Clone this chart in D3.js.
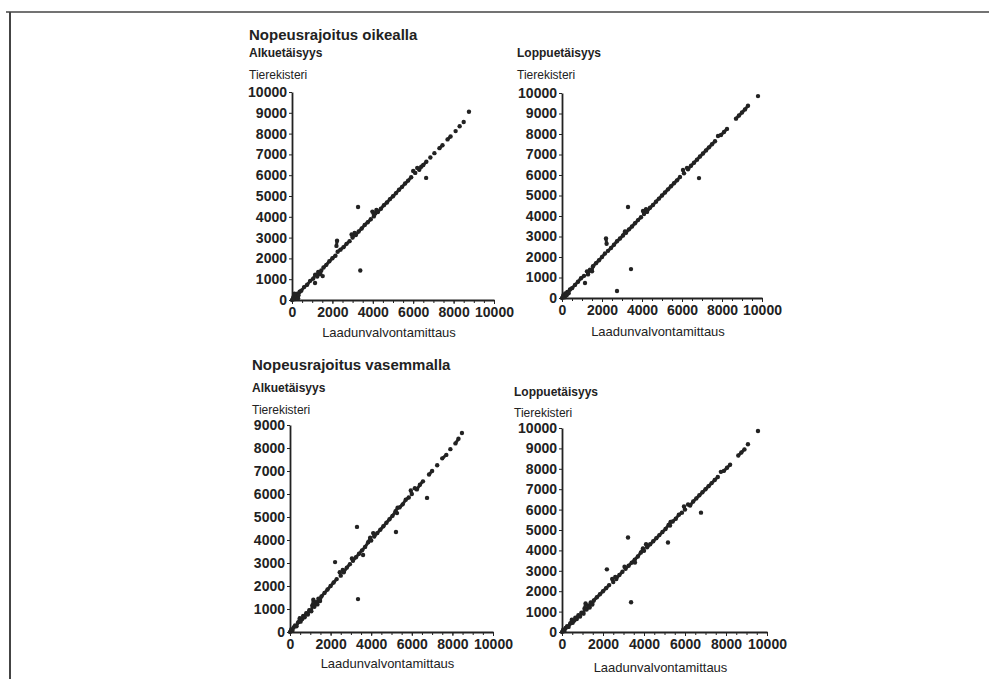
<!DOCTYPE html>
<html>
<head>
<meta charset="utf-8">
<script src="https://cdn.jsdelivr.net/npm/d3@7"></script>
<style>
  body { margin: 0; background: #fff; }
  svg { display: block; }
  text { font-family: "Liberation Sans", Arial, sans-serif; fill: #222; }
</style>
</head>
<body>
<div id="chart"></div>
<script>
// ticks
var xTicks = [0, 2000, 4000, 6000, 8000, 10000];
var yTicks10 = [0, 1000, 2000, 3000, 4000, 5000, 6000, 7000, 8000, 9000, 10000];
var yTicks9 = [0, 1000, 2000, 3000, 4000, 5000, 6000, 7000, 8000, 9000];

// texts
var groupTitles = ["Nopeusrajoitus oikealla", "Nopeusrajoitus vasemmalla"];
var panelTitles = ["Alkuetäisyys", "Loppuetäisyys", "Alkuetäisyys", "Loppuetäisyys"];
var yTitle = "Tierekisteri";
var xTitle = "Laadunvalvontamittaus";

// [laadunvalvontamittaus, tierekisteri]
var p1Main = [[0,0],[60,120],[120,40],[150,220],[220,130],[260,300],[320,230],[120,300],[300,80],[380,400],
  [460,450],[600,620],[750,730],[900,920],[1050,1030],[1150,1220],[1250,1130],[1300,1350],[1400,1250],[1450,1420],
  [1520,1150],[1560,1560],[1700,1690],[1850,1860],[2000,2010],[2150,2130],[2200,2600],[2230,2850],[2260,2320],[2400,2420],
  [2550,2540],[2700,2700],[2850,2830],[2950,3150],[3000,3000],[3100,3220],[3160,3120],[3300,3290],[3450,3440],[3600,3610],
  [3750,3740],[3900,3880],[3980,4250],[4050,4020],[4120,4160],[4180,4330],[4250,4230],[4400,4390],[4550,4560],[4700,4690],
  [4850,4850],[5000,4990],[5150,5140],[5300,5300],[5450,5440],[5600,5600],[5750,5740],[5900,5900],[6000,6200],[6100,6110],
  [6200,6350],[6300,6260],[6400,6410],[6500,6490],[6650,6650],[6850,6850],[7050,7060],[7300,7300],[7450,7440],[7700,7720],
  [7850,7860],[8100,8120],[8300,8350],[8500,8560],[8760,9050]];
var p1Out = [[1140,820],[3270,4470],[3380,1420],[6640,5870]];

var p2Main = [[0,0],[60,120],[130,40],[160,220],[230,130],[270,300],[330,230],[400,420],
  [500,480],[650,640],[800,790],[950,960],[1100,1080],[1250,1300],[1300,1150],[1400,1380],[1500,1300],[1550,1550],
  [1700,1700],[1850,1840],[2000,2000],[2150,2170],[2200,2900],[2230,2650],[2300,2300],[2450,2440],[2600,2600],[2750,2770],
  [2900,2900],[3050,3050],[3150,3250],[3200,3180],[3350,3350],[3500,3490],[3650,3650],[3800,3800],[3950,3940],[4050,4250],
  [4100,4100],[4200,4330],[4250,4200],[4400,4400],[4550,4540],[4700,4700],[4850,4850],[5000,5000],[5150,5150],[5300,5300],
  [5450,5450],[5600,5600],[5750,5740],[5900,5900],[6050,6250],[6100,6080],[6250,6350],[6300,6280],[6450,6450],[6600,6600],
  [6750,6750],[6900,6900],[7050,7050],[7200,7200],[7350,7350],[7500,7500],[7650,7650],[7800,7900],[7950,7950],[8100,8100],
  [8250,8250],[8700,8750],[8850,8900],[9000,9050],[9150,9200],[9300,9380]];
var p2Out = [[1150,730],[2750,340],[3300,4440],[3450,1410],[6850,5850],[9800,9850]];

var p3Main = [[0,0],[60,110],[120,50],[180,200],[250,280],[320,250],[400,420],[480,600],[520,450],[600,560],
  [650,700],[720,640],[800,820],[880,760],[950,950],[1050,900],[1100,1150],[1150,1400],[1200,1100],[1280,1300],
  [1350,1200],[1400,1450],[1480,1350],[1550,1550],[1700,1700],[1850,1850],[2000,2000],[2150,2150],[2300,2300],[2450,2600],
  [2500,2450],[2600,2700],[2650,2600],[2800,2800],[2950,2950],[3050,3200],[3100,3100],[3250,3250],[3400,3400],[3550,3550],
  [3700,3700],[3850,3900],[3950,4100],[4000,3980],[4100,4300],[4150,4150],[4300,4300],[4450,4450],[4600,4600],[4750,4750],
  [4900,4900],[5050,5050],[5200,5250],[5300,5400],[5400,5420],[5550,5550],[5700,5750],[5850,5850],[5950,6150],[6000,6000],
  [6150,6250],[6250,6200],[6400,6400],[6550,6550],[6850,6850],[7000,7000],[7250,7250],[7500,7550],[7700,7700],[7900,7950],
  [8150,8200],[8300,8400],[8470,8650]];
var p3Out = [[2220,3040],[3300,4570],[3350,1430],[3600,3350],[5220,4350],[5270,5170],[6750,5830]];

var p4Main = [[0,0],[60,110],[120,50],[180,200],[250,280],[320,250],[400,420],[480,600],[520,450],[600,560],
  [650,700],[720,640],[800,820],[880,760],[950,950],[1050,900],[1100,1150],[1150,1400],[1200,1100],[1280,1300],
  [1350,1200],[1400,1450],[1480,1350],[1550,1550],[1700,1700],[1850,1850],[2000,2000],[2150,2150],[2300,2300],[2450,2600],
  [2500,2450],[2600,2700],[2650,2600],[2800,2800],[2950,2950],[3050,3200],[3100,3100],[3250,3250],[3400,3400],[3550,3550],
  [3700,3700],[3850,3900],[3950,4100],[4000,3980],[4100,4300],[4150,4150],[4300,4300],[4450,4450],[4600,4600],[4750,4750],
  [4900,4900],[5050,5050],[5200,5250],[5300,5400],[5400,5420],[5550,5550],[5700,5750],[5850,5850],[5950,6150],[6000,6000],
  [6150,6250],[6250,6200],[6400,6400],[6550,6550],[6700,6700],[6850,6850],[7000,7000],[7150,7150],[7300,7300],[7450,7450],
  [7600,7600],[7750,7850],[7900,7900],[8050,8050],[8200,8200],[8600,8650],[8750,8800],[8900,8950],[9070,9200]];
var p4Out = [[2190,3070],[3220,4630],[3370,1460],[3560,3410],[5170,4390],[5270,5220],[6780,5850],[9560,9850]];

var W = 989, H = 679;

var svg = d3.select("#chart").append("svg")
    .attr("width", W)
    .attr("height", H);

// scanned page frame
svg.append("line").attr("x1", 6).attr("x2", W).attr("y1", 12).attr("y2", 12)
    .attr("stroke", "#444").attr("stroke-width", 1.5);
svg.append("line").attr("x1", 10).attr("x2", 10).attr("y1", 12).attr("y2", H)
    .attr("stroke", "#444").attr("stroke-width", 2);

// panel placement
var panels = [
  { main: p1Main, out: p1Out, yMax: 10000, yTicks: yTicks10, x0: 292, x1: 494, yb: 300, yt: 92, textX: 249, sub: 57, ylab: 79, xlab: 337, title: 0 },
  { main: p2Main, out: p2Out, yMax: 10000, yTicks: yTicks10, x0: 562, x1: 762, yb: 298, yt: 93, textX: 517, sub: 57, ylab: 79, xlab: 336 },
  { main: p3Main, out: p3Out, yMax: 9000, yTicks: yTicks9, x0: 290, x1: 493, yb: 632, yt: 425, textX: 252, sub: 392, ylab: 414, xlab: 668, title: 1 },
  { main: p4Main, out: p4Out, yMax: 10000, yTicks: yTicks10, x0: 562, x1: 767, yb: 632, yt: 428, textX: 514, sub: 396, ylab: 417, xlab: 672 }
];
var titleY = [40, 370];

panels.forEach(function(p, i) {
  var x = d3.scaleLinear().domain([0, 10000]).range([p.x0, p.x1]);
  var y = d3.scaleLinear().domain([0, p.yMax]).range([p.yb, p.yt]);
  var g = svg.append("g");

  if (p.title !== undefined) {
    g.append("text").attr("x", p.textX).attr("y", titleY[p.title])
      .attr("font-size", 15).attr("font-weight", "bold").text(groupTitles[p.title]);
  }
  g.append("text").attr("x", p.textX).attr("y", p.sub)
    .attr("font-size", 12).attr("font-weight", "bold").text(panelTitles[i]);
  g.append("text").attr("x", p.textX).attr("y", p.ylab)
    .attr("font-size", 12).text(yTitle);

  // minor x ticks
  g.append("g").attr("transform", "translate(0," + p.yb + ")")
    .call(d3.axisBottom(x).tickValues(d3.range(0, 10001, 500)).tickSize(3).tickFormat(""))
    .call(a => a.select(".domain").remove())
    .selectAll("line").attr("stroke", "#222");

  var xa = g.append("g").attr("transform", "translate(0," + p.yb + ")")
    .call(d3.axisBottom(x).tickValues(xTicks).tickSize(4).tickPadding(3).tickSizeOuter(0).tickFormat(d3.format("d")));
  xa.select(".domain").attr("stroke", "#222").attr("stroke-width", 1.8);
  xa.selectAll("line").attr("stroke", "#222");
  xa.selectAll("text").attr("font-size", 14).attr("font-weight", "bold").attr("fill", "#2a2a2a")
    .attr("font-family", "Liberation Sans, Arial, sans-serif");

  var ya = g.append("g").attr("transform", "translate(" + p.x0 + ",0)")
    .call(d3.axisLeft(y).tickValues(p.yTicks).tickSize(3).tickPadding(2).tickSizeOuter(0).tickFormat(d3.format("d")));
  ya.select(".domain").attr("stroke", "#222").attr("stroke-width", 1.8);
  ya.selectAll("line").attr("stroke", "#222");
  ya.selectAll("text").attr("font-size", 14).attr("font-weight", "bold").attr("fill", "#2a2a2a")
    .attr("font-family", "Liberation Sans, Arial, sans-serif");

  g.append("text").attr("x", (p.x0 + p.x1) / 2 - 4).attr("y", p.xlab)
    .attr("text-anchor", "middle").attr("font-size", 13).text(xTitle);

  // the dense points merge into a thick stroke on the scan: join close neighbours
  var sorted = p.main.slice().sort((a, b) => a[0] - b[0]);
  var links = [];
  for (var k = 1; k < sorted.length; k++) {
    var a = sorted[k - 1], b = sorted[k];
    if (Math.hypot(b[0] - a[0], b[1] - a[1]) < 260) links.push([a, b]);
  }
  g.selectAll("line.lk").data(links).enter().append("line")
    .attr("class", "lk")
    .attr("x1", d => x(d[0][0])).attr("y1", d => y(d[0][1]))
    .attr("x2", d => x(d[1][0])).attr("y2", d => y(d[1][1]))
    .attr("stroke", "#262626").attr("stroke-width", 3).attr("stroke-linecap", "round");

  g.selectAll("circle.m").data(p.main.concat(p.out)).enter().append("circle")
    .attr("class", "m")
    .attr("cx", d => x(d[0]))
    .attr("cy", d => y(d[1]))
    .attr("r", 2.2)
    .attr("fill", "#222");
});
</script>
</body>
</html>
